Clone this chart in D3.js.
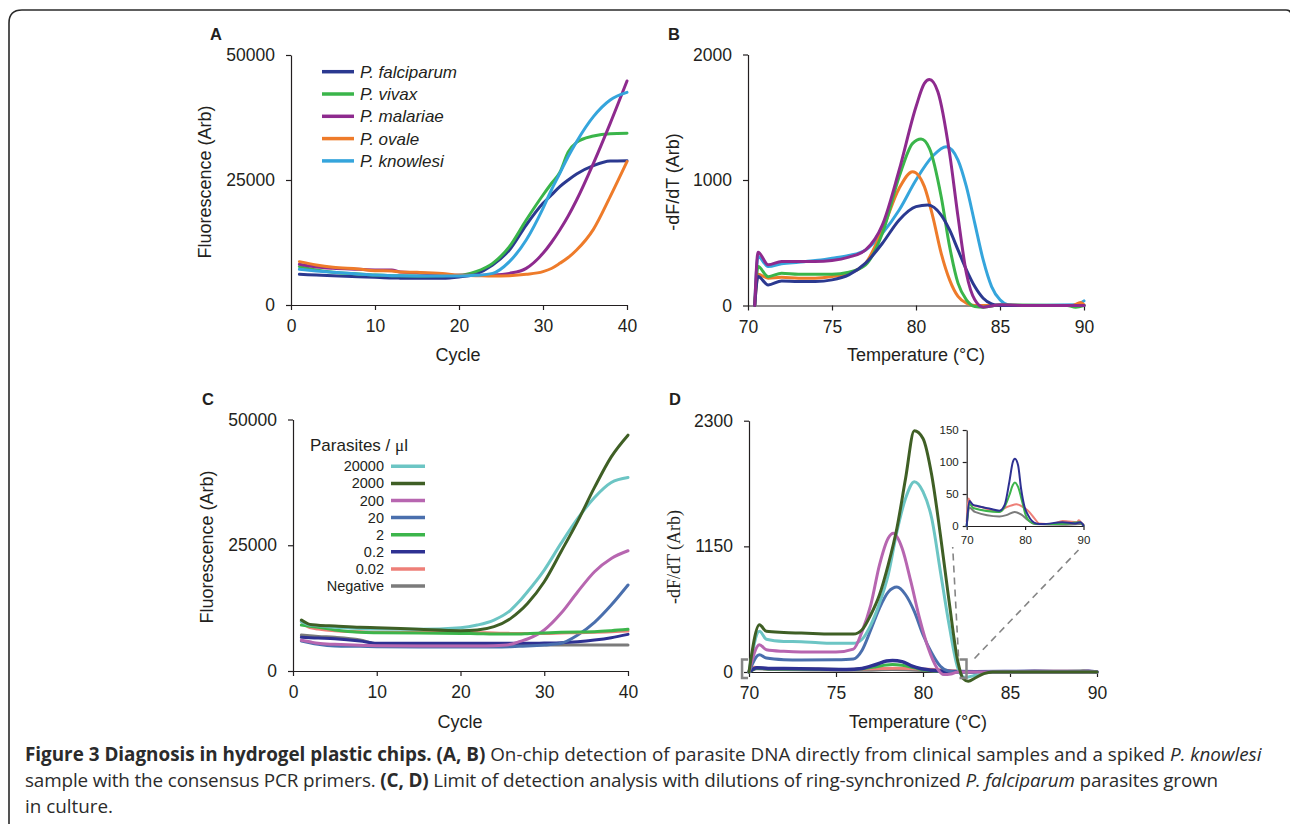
<!DOCTYPE html>
<html>
<head>
<meta charset="utf-8">
<script src="https://cdn.jsdelivr.net/npm/d3@7"></script>
<style>
	body { margin: 0; background: #fff; }
	svg text { font-family: 'Liberation Sans', Arial, sans-serif; fill: #231f20; }
	.axis path, .axis line { stroke: #231f20; stroke-width: 1.2; }
	.curve { fill: none; stroke-linejoin: round; stroke-linecap: round; }
</style>
<title>Figure 3</title>
</head>
<body>
<script>
	// ---- panel A : amplification, clinical samples ----
	var cyclesA = [1, 3, 5, 8, 10, 12, 13, 15, 18, 20, 22, 24, 26, 28, 30, 31, 32, 33, 34, 36, 38, 40];
	var falciparumA = [6130, 6000, 5870, 5670, 5530, 5400, 5370, 5330, 5330, 5600, 6200, 8000, 11000, 16000, 20330, 22000, 23670, 25000, 26200, 27870, 28800, 28870];
	var vivaxA = [7670, 7000, 6530, 6200, 6000, 5870, 5830, 5800, 5870, 5930, 6670, 8330, 11670, 17000, 22000, 24300, 26500, 30600, 32530, 33800, 34270, 34330];
	var malariaeA = [8130, 7600, 7330, 7130, 7000, 7000, 6600, 6470, 6130, 5930, 5930, 6000, 6330, 7330, 10330, 12500, 15000, 17800, 21000, 28330, 36330, 44800];
	var ovaleA = [8670, 8000, 7530, 7200, 6870, 6800, 6600, 6530, 6300, 5930, 5870, 5800, 5870, 6130, 6670, 7300, 8330, 9500, 11000, 15130, 21670, 28670];
	var knowlesiA = [7130, 6800, 6530, 6200, 6000, 5870, 5830, 5800, 5800, 5800, 5930, 6330, 8670, 13000, 19330, 23000, 26330, 29700, 32670, 37670, 41000, 42530];
	var species = ["P. falciparum", "P. vivax", "P. malariae", "P. ovale", "P. knowlesi"];
	var speciesColors = ["#2b3990", "#3ab54a", "#8e2a8e", "#ee7b2a", "#35a5dc"];

	// ---- panel B : melt curves [temperature, -dF/dT] ----
	var falciparumB = [[70.4, 0], [70.6, 231], [71.2, 164], [72, 196], [73, 191], [74, 191], [75, 204], [76, 244], [77, 337], [78, 496], [79, 682], [80, 788], [80.7, 801], [81.5, 721], [82, 602], [82.5, 443], [83, 284], [83.5, 151], [84, 58], [84.5, 13], [85, 0], [90, 0]];
	var vivaxB = [[70.4, 0], [70.6, 310], [71.2, 230], [72, 257], [73, 249], [74, 249], [75, 249], [76, 265], [77, 324], [78, 576], [79, 1027], [79.8, 1292], [80.3, 1326], [80.8, 1252], [81.5, 867], [82, 470], [82.5, 178], [83, 45], [83.5, -8], [84, -13], [85, 5], [89, 0], [89.5, -13], [90, 0]];
	var malariaeB = [[70.4, 0], [70.6, 424], [71.2, 324], [72, 350], [73, 350], [74, 350], [75, 358], [76, 385], [77, 443], [78, 642], [79, 1080], [80, 1584], [80.5, 1770], [80.8, 1800], [81.3, 1703], [82, 1212], [82.5, 708], [83, 257], [83.5, 45], [84, -13], [85, 5], [87, 0], [90, 0]];
	var ovaleB = [[70.4, 0], [70.6, 249], [71.2, 218], [72, 225], [73, 218], [74, 218], [75, 231], [76, 257], [77, 337], [78, 602], [79, 934], [79.8, 1066], [80.5, 947], [81, 708], [81.5, 416], [82, 204], [82.5, 72], [83, 19], [83.5, 0], [89.3, 0], [89.8, 24], [90, 5]];
	var knowlesiB = [[70.4, 0], [70.6, 390], [71.2, 310], [72, 332], [73, 345], [74, 358], [75, 377], [76, 398], [77, 443], [78, 576], [79, 761], [80, 1000], [81, 1191], [81.8, 1265], [82.5, 1159], [83, 947], [83.5, 655], [84, 363], [84.5, 151], [85, 45], [85.5, 5], [86, 0], [89.5, 5], [90, 37]];

	// ---- panel C : dilution series amplification ----
	var cyclesC = [1, 2, 3, 5, 8, 10, 15, 20, 22, 24, 26, 27, 28, 30, 32, 34, 36, 38, 40];
	var p20000C = [9800, 9140, 9000, 8680, 8450, 8340, 8280, 8610, 9140, 10130, 12120, 13800, 15760, 20070, 25360, 30330, 34500, 37480, 38480];
	var p2000C = [10130, 9270, 9100, 8940, 8700, 8610, 8280, 8010, 8150, 8810, 10460, 11800, 13440, 17750, 23710, 29800, 36500, 42580, 46890];
	var p200C = [6100, 5800, 5500, 5300, 5100, 5030, 4970, 4970, 4970, 5030, 5300, 5830, 6360, 8150, 11460, 15760, 19740, 22380, 23910];
	var p20C = [5960, 5600, 5300, 4970, 4900, 4830, 4770, 4770, 4770, 4770, 4830, 4900, 4970, 5170, 5500, 7150, 9670, 13110, 17090];
	var p2C = [9140, 8900, 8700, 8150, 7680, 7610, 7550, 7480, 7420, 7350, 7350, 7350, 7420, 7550, 7680, 7750, 7810, 8010, 8280];
	var p02C = [6690, 6620, 6550, 6420, 5960, 5500, 5500, 5500, 5500, 5500, 5500, 5500, 5500, 5560, 5630, 5830, 6160, 6620, 7280];
	var p002C = [9800, 8610, 8350, 8010, 7800, 7680, 7680, 7680, 7620, 7550, 7480, 7480, 7480, 7480, 7550, 7610, 7680, 7810, 7950];
	var negC = [7150, 7020, 6880, 6690, 6160, 5430, 5300, 5230, 5230, 5230, 5170, 5170, 5170, 5170, 5170, 5170, 5170, 5170, 5170];
	var dilutions = ["20000", "2000", "200", "20", "2", "0.2", "0.02", "Negative"];
	var dilutionColors = ["#6cc5c4", "#3f5f25", "#b766b0", "#4a6fad", "#3cb54b", "#2e3192", "#ee7f78", "#7b7b7b"];

	// ---- panel D : dilution series melt curves [temperature, -dF/dT] ----
	var p20000D = [[70, 0], [70.6, 372], [71, 300], [72, 280], [73, 277], [74, 268], [75, 262], [76, 262], [76.5, 300], [77, 432], [77.5, 630], [78, 889], [78.5, 1285], [79, 1590], [79.5, 1742], [80, 1651], [80.5, 1407], [81, 920], [81.5, 432], [82, 37], [82.4, -49], [83, -30], [83.5, -6], [84, 0], [90, 0]];
	var p2000D = [[70, 0], [70.6, 432], [71, 372], [72, 362], [73, 356], [74, 350], [75, 347], [76, 347], [76.5, 387], [77, 524], [77.5, 707], [78, 981], [78.5, 1316], [79, 1773], [79.5, 2208], [80, 2138], [80.5, 1803], [81, 1255], [81.5, 646], [82, 97], [82.3, -60], [82.6, -85], [83, -55], [83.5, -15], [84, 0], [90, 0]];
	var p200D = [[70, 0], [70.6, 250], [71, 204], [72, 189], [73, 183], [75, 183], [76, 210], [76.5, 372], [77, 615], [77.5, 981], [78, 1225], [78.3, 1270], [78.8, 1133], [79.3, 829], [79.8, 493], [80.3, 219], [80.8, 37], [81.2, -24], [81.6, -18], [82, 0], [90, 0]];
	var p20D = [[70, 0], [70.6, 158], [71, 128], [72, 113], [73, 110], [75, 113], [76, 120], [76.5, 200], [77, 387], [77.5, 585], [78, 731], [78.5, 777], [79, 707], [79.5, 554], [80, 341], [80.5, 174], [81, 52], [81.5, 6], [82, 0], [90, 0]];
	var p2D = [[70, 0], [70.45, 35], [71.1, 28], [75.6, 22], [76.5, 30], [77.3, 48], [77.9, 64], [78.25, 68], [78.8, 61], [79.5, 38], [80.1, 17], [80.7, 8], [81.9, 3], [84.1, 3], [87.5, 4], [89.2, 6], [89.8, 3], [90, 1]];
	var p02D = [[70, 0], [70.45, 39], [71.1, 33], [72, 31], [74, 27], [75.6, 24], [76.5, 33], [77.3, 69], [77.9, 100], [78.25, 105], [78.8, 95], [79.3, 59], [79.9, 30], [80.5, 17], [81.9, 4], [83, 3], [86.4, 6], [88.6, 4], [89.5, 6], [90, 1]];
	var p002D = [[70, 7], [70.3, 43], [70.85, 33], [72.3, 30], [75.6, 22], [76.5, 28], [77.6, 32], [78.5, 34], [79.6, 30], [80.7, 22], [81.6, 12], [82.4, 4], [84.7, 3], [86.4, 8], [87.5, 7], [88.9, 6], [89.2, 9], [89.8, 3], [90, 2]];
	var negD = [[70, 0], [70.45, 29], [71.4, 22], [75.6, 15], [76.8, 17], [78.2, 22], [79.3, 18], [80.5, 9], [81.6, 3], [86.4, 2], [89.5, 3], [89.9, 2]];

	var captionLines = [
		[["Figure 3 Diagnosis in hydrogel plastic chips.", "b"], [" ", ""], ["(A, B)", "b"], [" On-chip detection of parasite DNA directly from clinical samples and a spiked ", ""], ["P. knowlesi", "i"]],
		[["sample with the consensus PCR primers. ", ""], ["(C, D)", "b"], [" Limit of detection analysis with dilutions of ring-synchronized ", ""], ["P. falciparum", "i"], [" parasites grown", ""]],
		[["in culture.", ""]]
	];
	var captionWidths = [1237, 1193, null];

	var svg = d3.select('body').append('svg')
		.attr('width', 1290)
		.attr('height', 824);

	// rounded frame round the figure
	svg.append('path')
		.attr('d', 'M9,830 V23 Q9,10 22,10 H1286 Q1291,10 1291,15')
		.attr('fill', 'none')
		.attr('stroke', '#2a2a2a')
		.attr('stroke-width', 1.6);

	// builds scales and axes of one plot
	function panel(o) {
		var x = d3.scaleLinear().domain(o.xDomain).range(o.xRange);
		var y = d3.scaleLinear().domain(o.yDomain).range(o.yRange);
		var fs = o.fs || 17.5;
		var tick = o.tick || 5;
		svg.append('g')
			.attr('class', 'axis')
			.attr('transform', `translate(0,${o.yRange[0]})`)
			.call(d3.axisBottom(x).tickValues(o.xTicks).tickSize(tick).tickSizeOuter(0).tickPadding(o.padX))
			.call(g => g.selectAll('text').style('font-size', fs + 'px'))
			.attr('font-family', null).attr('font-size', null);
		svg.append('g')
			.attr('class', 'axis')
			.attr('transform', `translate(${o.xRange[0]},0)`)
			.call(d3.axisLeft(y).tickValues(o.yTicks).tickSize(tick).tickSizeOuter(0).tickPadding(o.padY).tickFormat(d3.format('d')))
			.call(g => g.selectAll('text').style('font-size', fs + 'px'))
			.attr('font-family', null).attr('font-size', null);
		return { x: x, y: y };
	}

	function drawLine(p, pts, color, width) {
		var line = d3.line()
			.x(d => p.x(d[0]))
			.y(d => p.y(d[1]))
			.curve(d3.curveMonotoneX);
		svg.append('path')
			.attr('class', 'curve')
			.attr('d', line(pts))
			.attr('stroke', color)
			.attr('stroke-width', width);
	}

	function label(txt, x, y, opts) {
		opts = opts || {};
		var t = svg.append('text')
			.attr('x', x).attr('y', y)
			.attr('text-anchor', opts.anchor || 'middle')
			.style('font-size', (opts.fs || 18) + 'px')
			.text(txt);
		if (opts.rotate) t.attr('transform', `rotate(-90,${x},${y})`);
		if (opts.bold) t.style('font-weight', 'bold');
		if (opts.italic) t.style('font-style', 'italic');
		if (opts.family) t.style('font-family', opts.family);
		return t;
	}

	var zip = (xs, ys) => xs.map((v, i) => [v, ys[i]]);

	// ---------- A ----------
	var pA = panel({ xDomain: [0, 40], xRange: [291, 627], yDomain: [0, 50000], yRange: [305, 55],
		xTicks: [0, 10, 20, 30, 40], yTicks: [0, 25000, 50000], padX: 10, padY: 11 });
	[falciparumA, vivaxA, malariaeA, ovaleA, knowlesiA].forEach((s, i) => drawLine(pA, zip(cyclesA, s), speciesColors[i], 3));
	species.forEach((s, i) => {
		var yy = 71.7 + i * 22.3;
		svg.append('line').attr('x1', 322).attr('x2', 354).attr('y1', yy).attr('y2', yy)
			.attr('stroke', speciesColors[i]).attr('stroke-width', 3.5);
		label(s, 360, yy + 6, { anchor: 'start', fs: 17, italic: true });
	});
	label('A', 210, 40, { anchor: 'start', fs: 16.5, bold: true });
	label('Fluorescence (Arb)', 211, 182, { rotate: true });
	label('Cycle', 458, 361);

	// ---------- B ----------
	var pB = panel({ xDomain: [70, 90], xRange: [748, 1084], yDomain: [0, 2000], yRange: [305.5, 54.5],
		xTicks: [70, 75, 80, 85, 90], yTicks: [0, 1000, 2000], padX: 10, padY: 11 });
	[knowlesiB, ovaleB, vivaxB, falciparumB, malariaeB].forEach((s, i) => drawLine(pB, s, speciesColors[[4, 3, 1, 0, 2][i]], 3));
	label('B', 668, 40, { anchor: 'start', fs: 16.5, bold: true });
	label('-dF/dT (Arb)', 679, 182, { rotate: true });
	label('Temperature (°C)', 916, 361);

	// ---------- C ----------
	var pC = panel({ xDomain: [0, 40], xRange: [293, 628], yDomain: [0, 50000], yRange: [671, 419.5],
		xTicks: [0, 10, 20, 30, 40], yTicks: [0, 25000, 50000], padX: 10, padY: 11 });
	var seriesC = [p20000C, p2000C, p200C, p20C, p2C, p02C, p002C, negC];
	[7, 5, 3, 2, 6, 4, 0, 1].forEach(i => drawLine(pC, zip(cyclesC, seriesC[i]), dilutionColors[i], 3));
	var title = label('Parasites / ', 310, 451, { anchor: 'start', fs: 17 });
	title.append('tspan').style('font-family', "'Liberation Serif', serif").text('μ');
	title.append('tspan').text('l');
	dilutions.forEach((s, i) => {
		var yy = 466.3 + i * 17.1;
		svg.append('line').attr('x1', 391).attr('x2', 425).attr('y1', yy).attr('y2', yy)
			.attr('stroke', dilutionColors[i]).attr('stroke-width', 3.5);
		label(s, 384, yy + 5, { anchor: 'end', fs: 14.5 });
	});
	label('C', 202, 405, { anchor: 'start', fs: 16.5, bold: true });
	label('Fluorescence (Arb)', 213, 547, { rotate: true });
	label('Cycle', 460, 728);

	// ---------- D ----------
	var pD = panel({ xDomain: [70, 90], xRange: [749, 1097], yDomain: [0, 2300], yRange: [672, 420.7],
		xTicks: [70, 75, 80, 85, 90], yTicks: [0, 1150, 2300], padX: 10, padY: 11 });
	var seriesD = [p20000D, p2000D, p200D, p20D, p2D, p02D, p002D, negD];
	[7, 6, 4, 5, 3, 0, 2, 1].forEach(i => drawLine(pD, seriesD[i], dilutionColors[i], i == 5 ? 3.5 : 3));
	label('D', 669, 405, { anchor: 'start', fs: 16.5, bold: true });
	label('-dF/dT (Arb)', 680, 557, { rotate: true, family: "'Liberation Serif', 'Times New Roman', serif" });
	label('Temperature (°C)', 918, 728);

	// inset with the low dilutions
	var pI = panel({ xDomain: [70, 90], xRange: [966.7, 1083.5], yDomain: [0, 150], yRange: [526, 430],
		xTicks: [70, 80, 90], yTicks: [0, 50, 100, 150], padX: 5.5, padY: 4, fs: 11.5, tick: 4 });
	[7, 6, 4, 5].forEach(i => drawLine(pI, seriesD[i], dilutionColors[i], 2));

	// zoom brackets and dashed guides
	var zoomBox = { t0: 69.6, t1: 82.5, v0: -55, v1: 115 };
	var bx0 = pD.x(zoomBox.t0), bx1 = pD.x(zoomBox.t1), by0 = pD.y(zoomBox.v1), by1 = pD.y(zoomBox.v0);
	svg.append('path')
		.attr('d', `M${bx0 + 6},${by0} H${bx0} V${by1} H${bx0 + 6} M${bx1 - 7},${by0} H${bx1} V${by1} H${bx1 - 7}`)
		.attr('fill', 'none').attr('stroke', '#858585').attr('stroke-width', 2.5);
	[[bx1 - 8, by0 - 3, pI.x(70) - 14, pI.y(0) + 21], [bx1 + 8, by0 - 1, pI.x(90) - 5, pI.y(0) + 24]].forEach(s => {
		svg.append('line').attr('x1', s[0]).attr('y1', s[1]).attr('x2', s[2]).attr('y2', s[3])
			.attr('stroke', '#858585').attr('stroke-width', 1.6).attr('stroke-dasharray', '7,5');
	});

	// ---------- caption ----------
	var capTexts = captionLines.map((line, i) => {
		var t = svg.append('text')
			.attr('x', 25).attr('y', 761 + i * 26)
			.style('font-family', "'Open Sans', sans-serif")
			.style('white-space', 'pre')
			.style('fill', '#2b2b2b')
			.style('font-size', '18px');
		line.forEach(seg => {
			t.append('tspan').text(seg[0])
				.style('font-weight', seg[1] == 'b' ? 'bold' : null)
				.style('font-style', seg[1] == 'i' ? 'italic' : null);
		});
		return t;
	});
	// one size from the first line, then a little letter spacing so line two ends where it should
	var capSize = 18 * captionWidths[0] / capTexts[0].node().getComputedTextLength();
	capTexts.forEach(t => t.style('font-size', capSize + 'px'));
	capTexts.forEach((t, i) => {
		if (i == 0 || !captionWidths[i]) return;
		var n = t.text().length;
		var gap = (captionWidths[i] - t.node().getComputedTextLength()) / n;
		t.style('letter-spacing', gap + 'px');
	});
</script>
</body>
</html>
